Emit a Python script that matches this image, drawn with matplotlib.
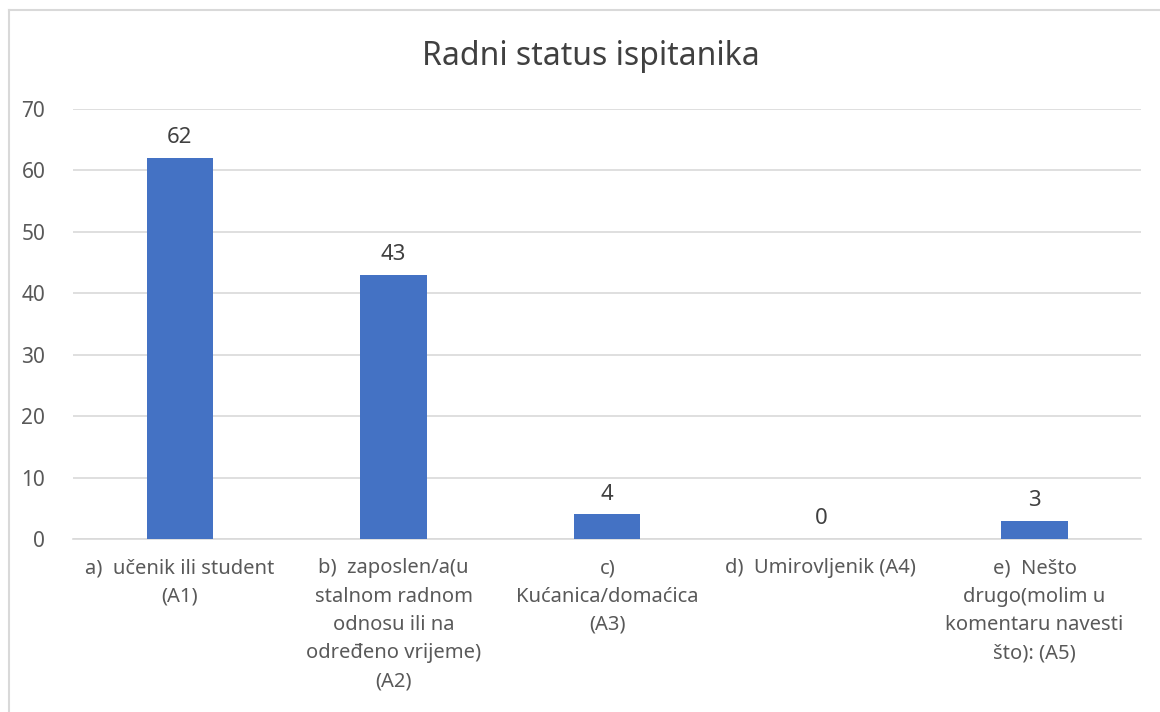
import matplotlib.pyplot as plt
from matplotlib.lines import Line2D

# ------------------- Data -------------------
categories = [
    "a)  učenik ili student\n(A1)",
    "b)  zaposlen/a(u\nstalnom radnom\nodnosu ili na\nodređeno vrijeme)\n(A2)",
    "c)\nKućanica/domaćica\n(A3)",
    "d)  Umirovljenik (A4)",
    "e)  Nešto\ndrugo(molim u\nkomentaru navesti\nšto): (A5)",
]
values = [62, 43, 4, 0, 3]
y_ticks = [0, 10, 20, 30, 40, 50, 60, 70]

bar_color = "#4472C4"
text_color = "#595959"
grid_color = "#D9D9D9"

plt.rcParams['font.family'] = ['Noto Sans', 'DejaVu Sans']

fig = plt.figure(figsize=(11.6, 7.12), dpi=100)
ax = fig.add_axes([0.063, 0.243, 0.921, 0.604])

x = list(range(len(values)))
bars = ax.bar(x, values, width=0.31, color=bar_color, zorder=3)

for xi, v in zip(x, values):
    ax.annotate(str(v), (xi, v), xytext=(0, 7), textcoords="offset points",
                ha="center", va="bottom", fontsize=16, color="#404040")

ax.set_xlim(-0.5, len(values) - 0.5)
ax.set_ylim(0, 70)
ax.set_yticks(y_ticks)
ax.set_xticks(x)
ax.set_xticklabels(categories, fontsize=14.5, color=text_color, linespacing=1.55)
ax.tick_params(axis="y", labelsize=15, labelcolor=text_color, length=0, pad=20)
ax.tick_params(axis="x", length=0, pad=14)
ax.yaxis.grid(True, color=grid_color, linewidth=1.2, zorder=0)

for side in ["top", "right", "left"]:
    ax.spines[side].set_visible(False)
ax.spines["bottom"].set_color(grid_color)
ax.spines["bottom"].set_linewidth(1.2)

fig.text(0.509, 0.921, "Radni status ispitanika", ha="center", va="center",
         fontsize=23, color="#404040")

# chart frame (left and top edges visible)
fig.add_artist(Line2D([0.008, 0.008], [0, 0.986], color=grid_color, lw=1.5))
fig.add_artist(Line2D([0.008, 1.0], [0.986, 0.986], color=grid_color, lw=1.5))

fig.savefig("out.png", dpi=100)
